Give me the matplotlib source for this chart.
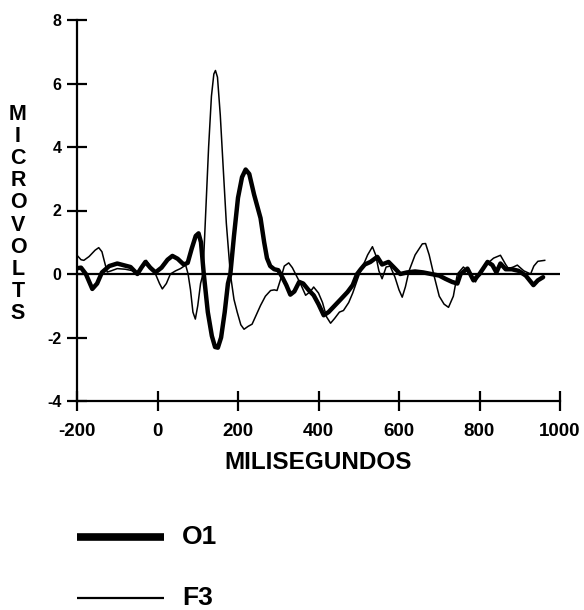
import numpy as np
import matplotlib.pyplot as plt

# ERP waveforms (ms, microvolts)
o1_ms = [-200, -190, -178, -162, -150, -138, -120, -100, -85, -67, -50, -40, -30, -18, -5,
         10, 25, 37, 50, 65, 75, 85, 95, 102, 108, 115, 125, 135, 143, 150, 158, 167, 175,
         181, 190, 200, 210, 219, 228, 240, 256, 265, 272, 280, 290, 300, 310, 320, 330,
         340, 352, 362, 375, 388, 400, 413, 425, 440, 455, 472, 485, 496, 505, 515, 529,
         546, 558, 574, 588, 603, 620, 640, 660, 680, 700, 715, 732, 745, 753, 770, 785,
         800, 820, 832, 842, 852, 865, 880, 897, 915, 934, 945, 958]
o1_uv = [0.18, 0.2, 0.0, -0.47, -0.3, 0.05, 0.25, 0.33, 0.28, 0.22, 0.0, 0.2, 0.38, 0.2, 0.05,
         0.2, 0.45, 0.57, 0.48, 0.3, 0.35, 0.8, 1.2, 1.28, 1.0, 0.0, -1.2, -1.95, -2.3, -2.32,
         -2.0, -1.2, -0.3, 0.0, 1.2, 2.4, 3.05, 3.29, 3.15, 2.5, 1.76, 1.0, 0.5, 0.25, 0.15,
         0.12, -0.1, -0.35, -0.65, -0.55, -0.25, -0.3, -0.5, -0.67, -0.95, -1.3, -1.2, -1.0,
         -0.8, -0.57, -0.35, 0.0, 0.15, 0.3, 0.38, 0.54, 0.3, 0.38, 0.2, 0.0, 0.05, 0.08,
         0.05, 0.0, -0.05, -0.15, -0.25, -0.3, 0.0, 0.17, -0.2, 0.0, 0.38, 0.28, 0.05, 0.33,
         0.15, 0.15, 0.1, -0.05, -0.35, -0.2, -0.1]

f3_ms = [-200, -190, -183, -170, -155, -146, -138, -133, -125, -115, -100, -80, -60, -50, -40,
         -28, -18, -5, 5, 12, 22, 32, 45, 57, 70, 76, 82, 88, 94, 100, 107, 113, 120, 127,
         134, 140, 144, 149, 156, 163, 171, 181, 190, 198, 207, 215, 225, 235, 245, 256, 268,
         281, 290, 297, 305, 315, 326, 335, 343, 355, 368, 380, 388, 400, 410, 420, 430,
         440, 452, 462, 475, 485, 496, 503, 512, 522, 534, 542, 550, 558, 568, 578, 590,
         600, 608, 616, 625, 640, 658, 666, 675, 686, 700, 712, 723, 735, 745, 760, 777,
         790, 805, 815, 835, 852, 865, 872, 884, 894, 910, 927, 935, 945, 962]
f3_uv = [0.59, 0.45, 0.43, 0.55, 0.75, 0.83, 0.7, 0.45, 0.06, 0.1, 0.17, 0.15, 0.1, 0.05, 0.2,
         0.43, 0.25, 0.0, -0.3, -0.47, -0.3, 0.0, 0.1, 0.17, 0.28, 0.0, -0.5, -1.2, -1.42,
         -1.0, -0.3, 0.0, 2.0, 4.0, 5.6, 6.3, 6.41, 6.2, 5.0, 3.4, 1.6, 0.0, -0.8, -1.2, -1.6,
         -1.74, -1.65, -1.58, -1.3, -0.99, -0.7, -0.52, -0.5, -0.52, -0.2, 0.25, 0.35, 0.2,
         0.0, -0.3, -0.67, -0.55, -0.41, -0.6, -0.9, -1.35, -1.55, -1.4, -1.2, -1.15, -0.9,
         -0.6, -0.2, 0.05, 0.3, 0.6, 0.86, 0.6, 0.1, -0.15, 0.22, 0.25, -0.1, -0.5, -0.73,
         -0.4, 0.1, 0.6, 0.95, 0.96, 0.6, 0.0, -0.7, -0.95, -1.05, -0.7, 0.0, 0.22, 0.0,
         -0.25, 0.1, 0.28, 0.5, 0.59, 0.3, 0.17, 0.22, 0.28, 0.1, 0.0, 0.25, 0.4, 0.43]

x_ticks = [-200, 0, 200, 400, 600, 800, 1000]
y_ticks = [-4, -2, 0, 2, 4, 6, 8]

plt.rcParams['font.family'] = ['Liberation Sans', 'DejaVu Sans']
plt.rcParams['font.weight'] = 'bold'

fig = plt.figure(figsize=(5.84, 6.10), dpi=100)
ax = fig.add_axes([77/584, 1 - 401/610, 483/584, 381/610])

ax.axhline(0, color='black', lw=1.6, zorder=1)
ax.plot(f3_ms, f3_uv, color='black', lw=1.1, solid_joinstyle='round', zorder=2)
ax.plot(o1_ms, o1_uv, color='black', lw=3.2, solid_joinstyle='round',
        solid_capstyle='round', zorder=3)

ax.set_xlim(-200, 1000)
ax.set_ylim(-4, 8)
ax.set_xticks(x_ticks)
ax.set_yticks(y_ticks)
ax.set_xticklabels([str(v) for v in x_ticks], fontsize=13.5, fontweight='bold')
ax.set_yticklabels([str(v) for v in y_ticks], fontsize=11.5, fontweight='bold')
ax.tick_params(direction='inout', length=14, width=1.6)
ax.tick_params(axis='y', pad=4)
ax.tick_params(axis='x', pad=9)

for s in ['top', 'right']:
    ax.spines[s].set_visible(False)
for s in ['left', 'bottom']:
    ax.spines[s].set_linewidth(1.6)
ax.patch.set_alpha(0)

ax.set_xlabel("MILISEGUNDOS", fontsize=17.5, fontweight='bold', labelpad=8)

fig.text(18/584, 1 - 214/610, "\n".join("MICROVOLTS"), ha='center', va='center',
         fontsize=15.5, fontweight='bold', linespacing=1.07)

# legend drawn by hand below the plot
fig.add_artist(plt.Line2D([77/584, 164/584], [1 - 537/610, 1 - 537/610],
                          color='black', lw=5.5, solid_capstyle='butt'))
fig.add_artist(plt.Line2D([77/584, 164/584], [1 - 598/610, 1 - 598/610],
                          color='black', lw=1.6, solid_capstyle='butt'))
fig.text(182/584, 1 - 537/610, "O1", fontsize=19, fontweight='bold', va='center')
fig.text(182/584, 1 - 598/610, "F3", fontsize=19, fontweight='bold', va='center')

fig.savefig("out.png", dpi=100)
